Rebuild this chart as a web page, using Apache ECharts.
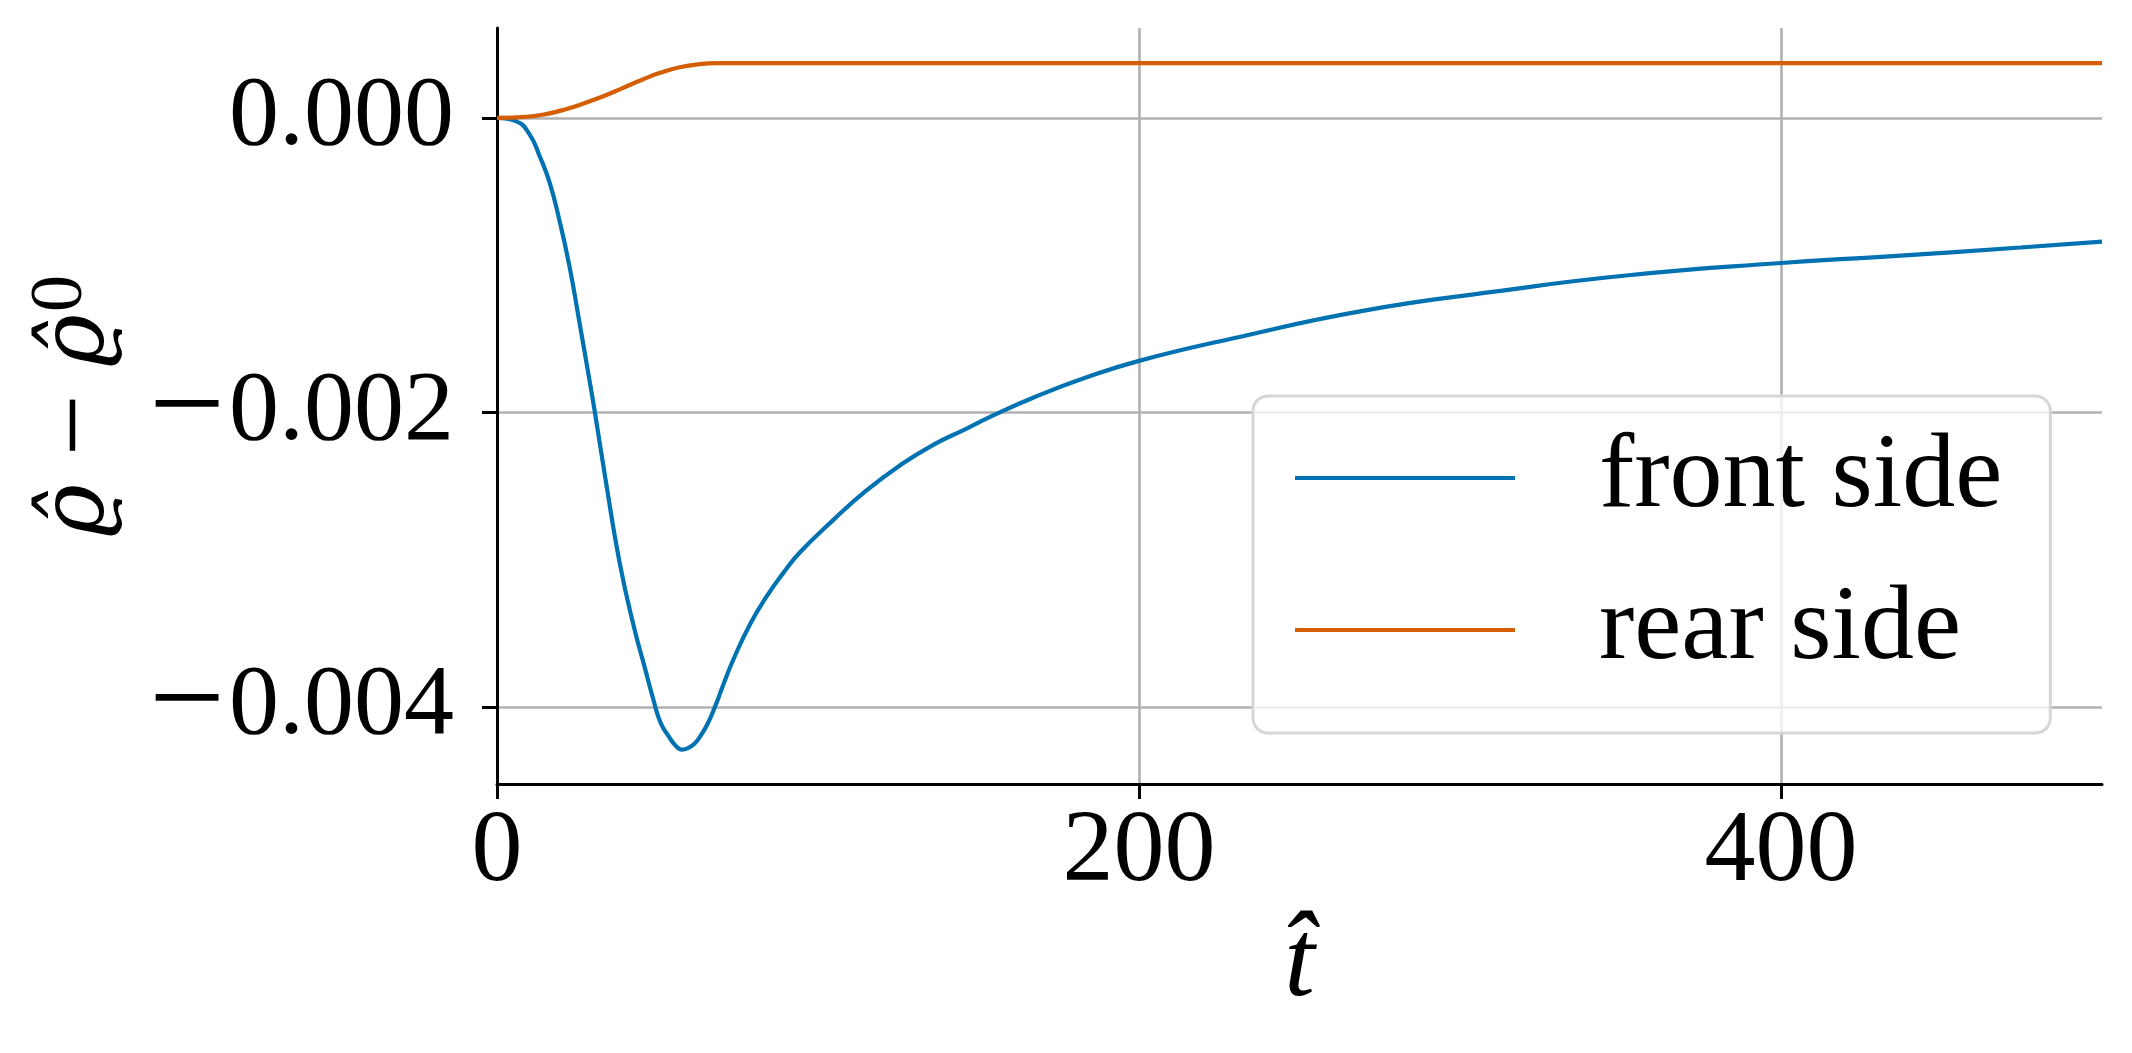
<!DOCTYPE html>
<html>
<head>
<meta charset="utf-8">
<script src="https://cdn.jsdelivr.net/npm/echarts@6/dist/echarts.min.js"></script>
<style>
  html, body { margin: 0; padding: 0; background: #ffffff; }
  #chart { width: 2132px; height: 1053px; }
</style>
</head>
<body>
<div id="chart"></div>
<script>
// ---- data ----
const frontT = [0, 6.0, 10.2, 13.3, 16.4, 19.5, 22.6, 25.7, 28.8, 30.5, 34.0, 38.2, 42.8, 46.0, 48.7, 51.0, 53.5, 55.5, 57.6, 59.5, 61.5, 63.3, 65.5, 67.9, 70.5, 73.6, 78.8, 84.0, 89.2, 94.4, 104.8, 115.1, 125.5, 135.9, 146.3, 154.6, 167, 182.6, 200, 228.7, 269.7, 310.7, 351.7, 400, 433.6, 474.6, 500];
const frontV = [0, -0.000023, -0.000113, -0.00026, -0.00044, -0.0007, -0.00101, -0.00139, -0.00178, -0.002, -0.00248, -0.00302, -0.00347, -0.00373, -0.00395, -0.00411, -0.0042, -0.00426, -0.00429, -0.00428, -0.00425, -0.0042, -0.00412, -0.004, -0.00385, -0.00368, -0.00344, -0.00325, -0.00309, -0.00295, -0.00273, -0.00253, -0.00236, -0.00222, -0.00211, -0.00202, -0.0019, -0.00177, -0.00165, -0.0015, -0.00131, -0.00118, -0.00107, -0.000985, -0.00094, -0.00088, -0.00084];
const rearT = [0, 9.3, 15.2, 21.2, 27.2, 33.1, 39.1, 45, 51, 56.9, 62.9, 68.8, 75, 500];
const rearV = [0, 0.000008, 0.000026, 0.000058, 0.0001, 0.000147, 0.000203, 0.000258, 0.000308, 0.000344, 0.000365, 0.000372, 0.000372, 0.000372];
const xTicks = [0, 200, 400];
const yTicks = [-0.004, -0.002, 0];
const seriesNames = ['front side', 'rear side'];

const FONT = '"Liberation Serif", "DejaVu Serif", serif';
const GREEK = '"DejaVu Serif", serif';
const zip = (a, b) => a.map((v, i) => [v, b[i]]);

const chart = echarts.init(document.getElementById('chart'), null, { renderer: 'canvas' });
chart.setOption({
  backgroundColor: '#ffffff',
  animation: false,
  grid: { left: 497, right: 30, top: 28, bottom: 269, containLabel: false },
  xAxis: {
    type: 'value',
    min: 0, max: 500,
    name: 't\u0302',
    nameLocation: 'middle',
    nameGap: 121,
    nameTextStyle: { fontFamily: FONT, fontStyle: 'italic', fontSize: 110, color: '#000', lineHeight: 110 },
    axisLine: { show: true, onZero: false, lineStyle: { color: '#000', width: 3 } },
    axisTick: { show: true, length: 15, lineStyle: { color: '#000', width: 3 }, customValues: xTicks },
    axisLabel: { customValues: xTicks, margin: 17, fontFamily: FONT, fontSize: 102, lineHeight: 105, color: '#000' },
    splitLine: { show: true, lineStyle: { color: '#b0b0b0', width: 2.6 } }
  },
  yAxis: {
    type: 'value',
    min: -0.004524, max: 0.000611,
    name: '{r|ϱ\u0302}{n| − }{r|ϱ\u0302}{s|0}',
    nameLocation: 'middle',
    nameRotate: 90,
    nameGap: 362,
    nameTextStyle: {
      color: '#000',
      rich: {
        r: { fontFamily: GREEK, fontStyle: 'italic', fontSize: 90, lineHeight: 110, color: '#000' },
        n: { fontFamily: FONT, fontSize: 110, lineHeight: 110, color: '#000' },
        s: { fontFamily: FONT, fontSize: 74, lineHeight: 74, verticalAlign: 'top', padding: [0, 0, 20, 2], color: '#000' }
      }
    },
    axisLine: { show: true, onZero: false, lineStyle: { color: '#000', width: 3 } },
    axisTick: { show: true, length: 15, lineStyle: { color: '#000', width: 3 }, customValues: yTicks },
    axisLabel: {
      customValues: yTicks, margin: 43, color: '#000',
      formatter: v => (v < 0 ? '{m|\u2212}' : '') + '{d|' + Math.abs(v).toFixed(3) + '}',
      rich: {
        m: { fontFamily: FONT, fontSize: 135, lineHeight: 105, color: '#000', padding: [0, 4, 0, 0] },
        d: { fontFamily: FONT, fontSize: 100, lineHeight: 105, color: '#000' }
      }
    },
    splitLine: { show: true, lineStyle: { color: '#b0b0b0', width: 2.6 } }
  },
  legend: {
    orient: 'vertical',
    left: 1253, top: 396,
    padding: [29, 48, 50, 42],
    itemGap: 46,
    itemWidth: 220, itemHeight: 3.8,
    icon: 'rect',
    backgroundColor: 'rgba(255,255,255,0.8)',
    borderColor: '#d6d6d6', borderWidth: 3, borderRadius: 15,
    textStyle: { fontFamily: FONT, fontSize: 106, lineHeight: 105, color: '#000', padding: [0, 0, 0, 79] },
    data: seriesNames
  },
  series: [
    {
      name: seriesNames[0], type: 'line', data: zip(frontT, frontV),
      showSymbol: false, smooth: 0.5,
      lineStyle: { color: '#0072B2', width: 4.2 }, itemStyle: { color: '#0072B2' }
    },
    {
      name: seriesNames[1], type: 'line', data: zip(rearT, rearV),
      showSymbol: false, smooth: 0.5,
      lineStyle: { color: '#D55E00', width: 4.2 }, itemStyle: { color: '#D55E00' }
    }
  ]
});
</script>
</body>
</html>
